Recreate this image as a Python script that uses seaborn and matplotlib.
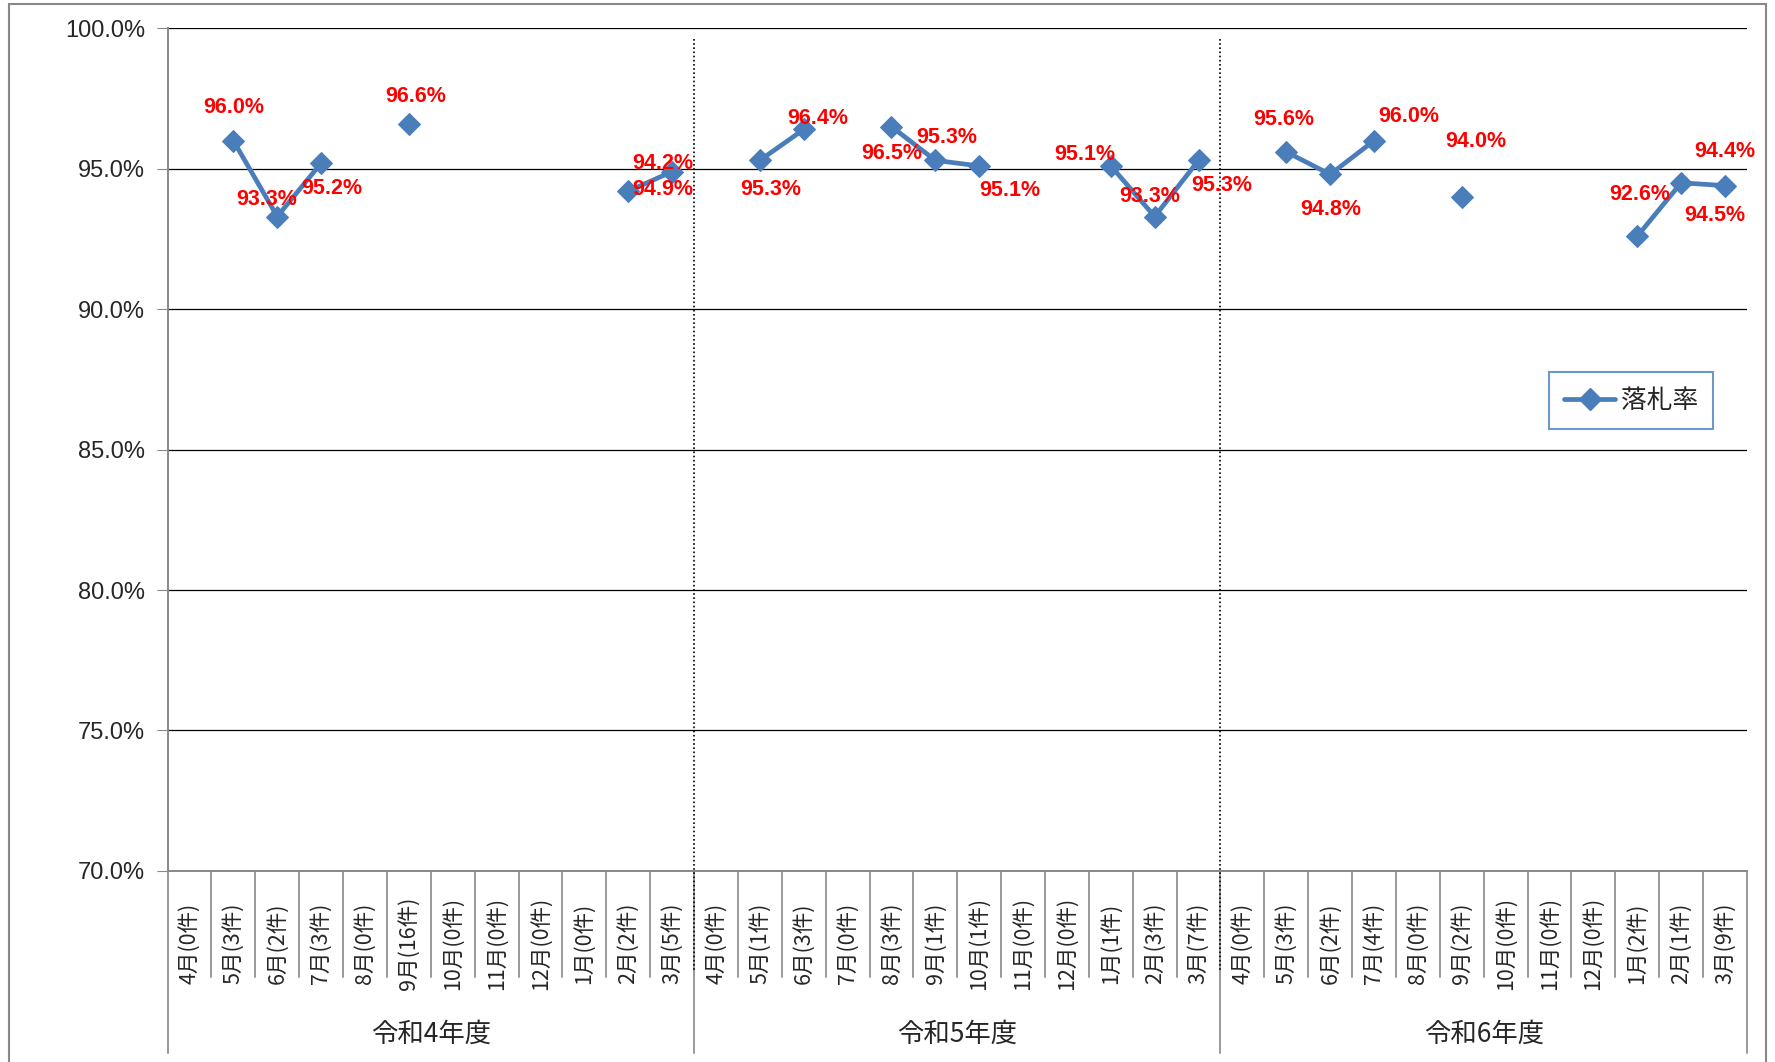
import numpy as np
import pandas as pd
import matplotlib
matplotlib.use("Agg")
import matplotlib.pyplot as plt
import matplotlib.transforms as mtransforms
from matplotlib.lines import Line2D
import seaborn as sns

# データ（落札率と件数）
years = ["令和4年度", "令和5年度", "令和6年度"]
months = ["4月", "5月", "6月", "7月", "8月", "9月", "10月", "11月", "12月", "1月", "2月", "3月"]
counts_r4 = [0, 3, 2, 3, 0, 16, 0, 0, 0, 0, 2, 5]
counts_r5 = [0, 1, 3, 0, 3, 1, 1, 0, 0, 1, 3, 7]
counts_r6 = [0, 3, 2, 4, 0, 2, 0, 0, 0, 2, 1, 9]
rate_r4 = [None, 96.0, 93.3, 95.2, None, 96.6, None, None, None, None, 94.2, 94.9]
rate_r5 = [None, 95.3, 96.4, None, 96.5, 95.3, 95.1, None, None, 95.1, 93.3, 95.3]
rate_r6 = [None, 95.6, 94.8, 96.0, None, 94.0, None, None, None, 92.6, 94.5, 94.4]

# ラベル位置のずれ（画素, 元画像を見て調整）
label_dx = [0, 0, -11, 11, 0, 7, 0, 0, 0, 0, 35, -9,
            0, 11, 14, 0, 0, 11, 31, 0, 0, -26, -5, 23,
            0, -3, 1, 35, 0, 14, 0, 0, 0, 2, 34, 0]
label_dy = [0, 33, 17, -25, 0, 27, 0, 0, 0, 0, 28, -18,
            0, -29, 11, 0, -27, 23, -25, 0, 0, 11, 20, -25,
            0, 32, -35, 24, 0, 55, 0, 0, 0, 42, -33, 34]

counts = counts_r4 + counts_r5 + counts_r6
rates = rate_r4 + rate_r5 + rate_r6
df = pd.DataFrame({
    "pos": np.arange(36),
    "label": [f"{m}({c}件)" for m, c in zip(months * 3, counts)],
    "rate": pd.array(rates, dtype="float"),
})
# 連続区間ごとに線をつなぐ
df["seg"] = df["rate"].isna().cumsum()

sns.set_style("white")
plt.rcParams["font.family"] = ["Noto Sans CJK JP", "DejaVu Sans"]

fig = plt.figure(figsize=(17.75, 10.62), dpi=100)
ax = fig.add_axes([0.0944, 0.180, 0.8898, 0.7933])

blue = "#4A7EBB"
d = df.dropna(subset=["rate"])
sns.lineplot(data=d, x="pos", y="rate", units="seg", estimator=None,
             color=blue, lw=3.4, marker="D", markersize=11,
             markeredgecolor=blue, ax=ax, legend=False)

# データラベル
for i, r in enumerate(rates):
    if r is None:
        continue
    ax.annotate(f"{r:.1f}%", (i, r), xytext=(label_dx[i], label_dy[i]),
                textcoords="offset pixels", ha="center", va="center",
                color="red", fontsize=15.5, fontweight="bold",
                family=["Liberation Sans Narrow", "Liberation Sans", "DejaVu Sans"])

ax.set_xlim(-0.5, 35.5)
ax.set_ylim(70, 100)
ax.set_yticks(np.arange(70, 100.1, 5))
ax.set_yticklabels([f"{v:.1f}%" for v in np.arange(70, 100.1, 5)], fontsize=17,
                   family=["Liberation Sans", "DejaVu Sans"])
ax.set_xticks([])
ax.set_xlabel("")
ax.set_ylabel("")
ax.yaxis.grid(True, color="black", lw=0.9)
ax.tick_params(axis="y", length=8, color="#888888", direction="out", pad=8, left=True)
for s in ["top", "right"]:
    ax.spines[s].set_visible(False)
ax.spines["left"].set_color("#888888")
ax.spines["left"].set_linewidth(1.4)
ax.spines["bottom"].set_color("#888888")
ax.spines["bottom"].set_linewidth(1.4)

# 軸下のカテゴリ表
tr = mtransforms.blended_transform_factory(ax.transData, ax.transAxes)
for i, lab in enumerate(df["label"]):
    ax.text(i, -0.086, lab, rotation=90, ha="center", va="center",
            fontsize=15.5, transform=tr, clip_on=False)
for k in range(37):
    x = k - 0.5
    y0 = -0.2166 if k % 12 == 0 else -0.1264
    ax.plot([x, x], [0, y0], color="#999999", lw=1.4, transform=tr, clip_on=False)
for g, name in enumerate(years):
    ax.text(g * 12 + 5.5, -0.1934, name, ha="center", va="center",
            fontsize=19, transform=tr, clip_on=False)
# 年度の区切り（点線）
for x in [11.5, 23.5]:
    ax.plot([x, x], [0.987, -0.12], color="black", lw=1.2, ls=(0, (1, 1.5)),
            transform=tr, clip_on=False)

# 凡例
h = Line2D([], [], color=blue, lw=3.4, marker="D", markersize=11)
leg = ax.legend([h], ["落札率"], loc="upper left", bbox_to_anchor=(0.8744, 0.592),
                fontsize=18.5, frameon=True, fancybox=False, handlelength=2.0,
                borderpad=0.6, handletextpad=0.2, borderaxespad=0)
leg.get_frame().set_edgecolor(blue)
leg.get_frame().set_linewidth(1.5)

# 外枠
fig.patches.append(plt.Rectangle((0.005, -0.01), 0.99, 1.006, transform=fig.transFigure,
                                 fill=False, edgecolor="#888888", lw=1.5))

fig.savefig("out.png", dpi=100)
